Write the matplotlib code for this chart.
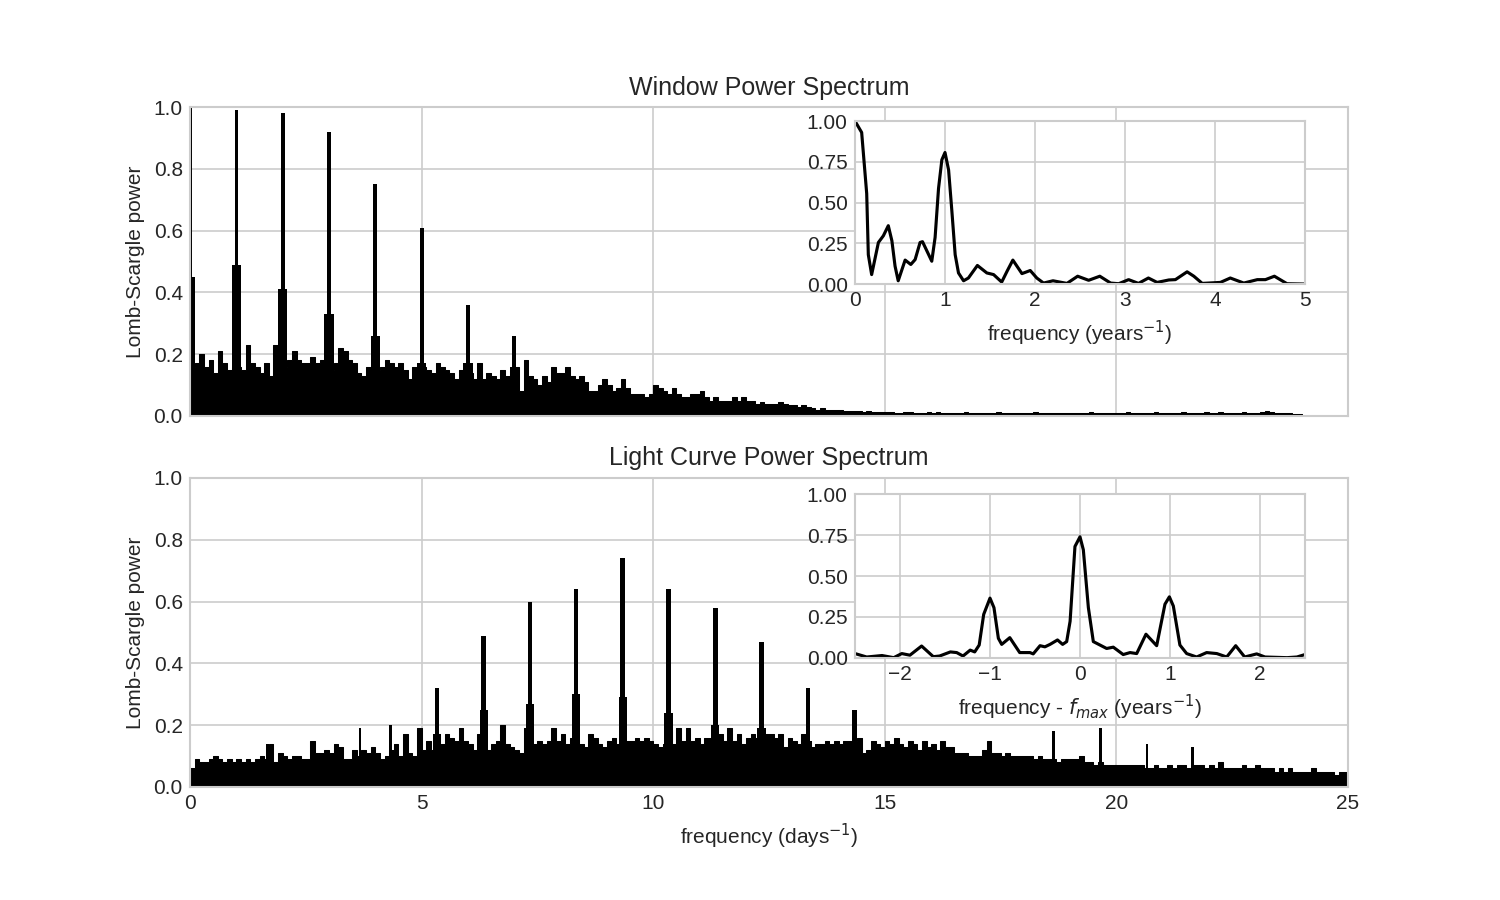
# Window and light curve Lomb-Scargle power spectra, with zoomed insets

import numpy as np
import matplotlib
matplotlib.use("Agg")
import matplotlib.pyplot as plt

#---------------------- DATA ------------------------#

# top panel: noise envelope in 0.1 day bins, 0 .. 24 days^-1
window_noise = [
    0.16, 0.17, 0.20, 0.16, 0.18, 0.14, 0.21, 0.17, 0.15, 0.16,
    0.16, 0.15, 0.23, 0.17, 0.16, 0.14, 0.17, 0.13, 0.23, 0.15,
    0.16, 0.18, 0.21, 0.18, 0.17, 0.17, 0.19, 0.17, 0.18, 0.16,
    0.15, 0.17, 0.22, 0.21, 0.18, 0.17, 0.14, 0.13, 0.16, 0.15,
    0.15, 0.16, 0.18, 0.17, 0.16, 0.17, 0.15, 0.12, 0.16, 0.15,
    0.16, 0.15, 0.14, 0.17, 0.16, 0.15, 0.14, 0.12, 0.15, 0.13,
    0.14, 0.12, 0.17, 0.12, 0.14, 0.13, 0.12, 0.15, 0.13, 0.15,
    0.16, 0.08, 0.18, 0.13, 0.12, 0.10, 0.13, 0.11, 0.16, 0.14,
    0.14, 0.16, 0.13, 0.12, 0.13, 0.11, 0.08, 0.08, 0.10, 0.12,
    0.10, 0.08, 0.09, 0.12, 0.09, 0.07, 0.07, 0.07, 0.06, 0.07,
    0.10, 0.09, 0.08, 0.07, 0.09, 0.07, 0.06, 0.06, 0.07, 0.07,
    0.08, 0.06, 0.05, 0.06, 0.05, 0.05, 0.05, 0.06, 0.05, 0.06,
    0.05, 0.05, 0.04, 0.045, 0.04, 0.04, 0.04, 0.045, 0.04, 0.035,
    0.035, 0.03, 0.035, 0.03, 0.025, 0.02, 0.025, 0.02, 0.02, 0.02,
    0.02, 0.015, 0.017, 0.015, 0.015, 0.014, 0.015, 0.013, 0.012, 0.012,
    0.012, 0.014, 0.011, 0.01, 0.012, 0.013, 0.01, 0.011, 0.01, 0.012,
    0.01, 0.012, 0.01, 0.009, 0.011, 0.01, 0.009, 0.012, 0.01, 0.009,
    0.01, 0.011, 0.009, 0.01, 0.012, 0.009, 0.01, 0.009, 0.011, 0.01,
    0.009, 0.01, 0.012, 0.009, 0.01, 0.009, 0.011, 0.01, 0.009, 0.01,
    0.01, 0.009, 0.011, 0.01, 0.012, 0.01, 0.009, 0.01, 0.011, 0.01,
    0.009, 0.01, 0.012, 0.01, 0.009, 0.011, 0.01, 0.01, 0.012, 0.01,
    0.01, 0.009, 0.011, 0.01, 0.012, 0.01, 0.011, 0.009, 0.01, 0.012,
    0.01, 0.011, 0.013, 0.01, 0.009, 0.011, 0.01, 0.012, 0.011, 0.01,
    0.011, 0.013, 0.015, 0.012, 0.01, 0.011, 0.01, 0.009, 0.008, 0.007,
]
window_peak_freq = [0.0, 1.0, 2.0, 3.0, 4.0, 5.0, 6.0, 7.0]
window_peak_power = [1.0, 0.99, 0.98, 0.92, 0.75, 0.61, 0.36, 0.26]
window_shoulder_power = [0.45, 0.49, 0.41, 0.33, 0.26, 0.17, 0.17, 0.16]

# bottom panel: noise envelope in 0.1 day bins, 0 .. 25 days^-1
lc_noise = [
    0.06, 0.09, 0.08, 0.08, 0.09, 0.10, 0.09, 0.08, 0.09, 0.08,
    0.09, 0.08, 0.09, 0.08, 0.09, 0.10, 0.09, 0.14, 0.08, 0.11,
    0.10, 0.09, 0.10, 0.10, 0.09, 0.09, 0.15, 0.11, 0.11, 0.12,
    0.11, 0.14, 0.13, 0.09, 0.09, 0.12, 0.10, 0.12, 0.11, 0.13,
    0.11, 0.09, 0.10, 0.12, 0.14, 0.10, 0.17, 0.11, 0.10, 0.19,
    0.12, 0.15, 0.12, 0.17, 0.14, 0.17, 0.16, 0.15, 0.19, 0.15,
    0.14, 0.12, 0.17, 0.20, 0.12, 0.14, 0.15, 0.20, 0.14, 0.13,
    0.12, 0.11, 0.19, 0.12, 0.14, 0.15, 0.14, 0.15, 0.19, 0.15,
    0.17, 0.14, 0.16, 0.15, 0.14, 0.13, 0.17, 0.16, 0.14, 0.13,
    0.15, 0.16, 0.14, 0.17, 0.15, 0.15, 0.16, 0.15, 0.16, 0.15,
    0.14, 0.13, 0.14, 0.18, 0.14, 0.19, 0.15, 0.19, 0.15, 0.16,
    0.14, 0.16, 0.16, 0.15, 0.17, 0.15, 0.19, 0.15, 0.17, 0.14,
    0.16, 0.17, 0.16, 0.15, 0.17, 0.17, 0.16, 0.17, 0.13, 0.16,
    0.15, 0.14, 0.17, 0.15, 0.13, 0.14, 0.14, 0.15, 0.14, 0.15,
    0.14, 0.15, 0.15, 0.15, 0.16, 0.11, 0.12, 0.15, 0.14, 0.13,
    0.15, 0.14, 0.16, 0.14, 0.13, 0.15, 0.14, 0.12, 0.15, 0.13,
    0.14, 0.12, 0.15, 0.13, 0.13, 0.11, 0.11, 0.11, 0.10, 0.10,
    0.10, 0.12, 0.15, 0.11, 0.11, 0.10, 0.11, 0.10, 0.10, 0.10,
    0.10, 0.10, 0.09, 0.10, 0.09, 0.09, 0.09, 0.08, 0.09, 0.09,
    0.09, 0.09, 0.10, 0.08, 0.08, 0.07, 0.08, 0.07, 0.07, 0.07,
    0.07, 0.07, 0.07, 0.07, 0.07, 0.07, 0.06, 0.06, 0.07, 0.06,
    0.06, 0.07, 0.06, 0.07, 0.07, 0.06, 0.07, 0.07, 0.07, 0.06,
    0.07, 0.06, 0.08, 0.06, 0.06, 0.06, 0.06, 0.07, 0.06, 0.06,
    0.07, 0.06, 0.06, 0.06, 0.05, 0.06, 0.05, 0.06, 0.05, 0.05,
    0.05, 0.05, 0.06, 0.05, 0.05, 0.05, 0.05, 0.04, 0.05, 0.05,
]
lc_peak_freq = [5.33, 6.34, 7.34, 8.33, 9.34, 10.33, 11.34, 12.34, 13.34, 14.35]
lc_peak_power = [0.32, 0.49, 0.60, 0.64, 0.74, 0.64, 0.58, 0.47, 0.32, 0.25]
lc_shoulder_power = [0.17, 0.25, 0.27, 0.30, 0.29, 0.24, 0.20, 0.19, 0.15, 0.14]
lc_spike_freq = [1.68, 3.67, 4.32, 18.64, 19.65, 20.66, 21.65]
lc_spike_power = [0.14, 0.19, 0.20, 0.18, 0.19, 0.14, 0.13]

# top inset: window power near zero (years^-1)
win_zoom_freq = [0.0, 0.074, 0.13, 0.148, 0.185, 0.26, 0.315, 0.37, 0.41, 0.445,
                 0.48, 0.557, 0.62, 0.668, 0.723, 0.75, 0.853, 0.89, 0.928, 0.965,
                 1.0, 1.04, 1.076, 1.113, 1.15, 1.206, 1.26, 1.36, 1.465, 1.54,
                 1.63, 1.69, 1.754, 1.855, 1.947, 2.02, 2.095, 2.2, 2.355, 2.474,
                 2.596, 2.72, 2.84, 2.93, 3.04, 3.15, 3.26, 3.357, 3.487, 3.56,
                 3.69, 3.765, 3.858, 4.06, 4.17, 4.32, 4.47, 4.56, 4.66, 4.8, 5.0]
win_zoom_power = [1.0, 0.93, 0.555, 0.18, 0.058, 0.255, 0.296, 0.358, 0.265, 0.11,
                  0.02, 0.147, 0.12, 0.15, 0.255, 0.26, 0.14, 0.286, 0.586, 0.762,
                  0.807, 0.70, 0.45, 0.18, 0.068, 0.02, 0.037, 0.114, 0.068, 0.058,
                  0.012, 0.079, 0.147, 0.064, 0.083, 0.037, 0.006, 0.02, 0.004, 0.048,
                  0.023, 0.048, 0.006, 0.002, 0.027, 0.004, 0.037, 0.01, 0.025, 0.027,
                  0.075, 0.048, 0.004, 0.01, 0.037, 0.006, 0.027, 0.027, 0.048, 0.002, 0.0]

# bottom inset: light curve power around f_max (years^-1)
lc_zoom_freq = [-2.5, -2.37, -2.2, -2.07, -1.98, -1.89, -1.76, -1.63, -1.56, -1.44,
                -1.37, -1.3, -1.22, -1.17, -1.12, -1.07, -1.0, -0.956, -0.907, -0.87,
                -0.78, -0.67, -0.556, -0.52, -0.444, -0.39, -0.333, -0.25, -0.193, -0.148,
                -0.11, -0.056, 0.0, 0.037, 0.093, 0.148, 0.222, 0.296, 0.37, 0.48,
                0.556, 0.63, 0.733, 0.852, 0.944, 0.993, 1.037, 1.11, 1.185, 1.296,
                1.407, 1.52, 1.63, 1.73, 1.83, 1.963, 2.056, 2.3, 2.41, 2.5]
lc_zoom_power = [0.027, 0.006, 0.015, 0.002, 0.027, 0.017, 0.073, 0.008, 0.012, 0.037,
                 0.033, 0.012, 0.048, 0.037, 0.079, 0.266, 0.365, 0.307, 0.12, 0.083,
                 0.124, 0.033, 0.033, 0.025, 0.075, 0.068, 0.083, 0.11, 0.083, 0.1,
                 0.224, 0.68, 0.739, 0.66, 0.307, 0.1, 0.079, 0.058, 0.066, 0.021,
                 0.033, 0.027, 0.145, 0.075, 0.328, 0.373, 0.317, 0.079, 0.027, 0.006,
                 0.033, 0.027, 0.006, 0.075, 0.006, 0.025, 0.006, 0.002, 0.006, 0.021]

#---------------------- PLOT ------------------------#

plt.style.use("seaborn-v0_8-whitegrid")
plt.rcParams["font.family"] = ["Liberation Sans", "DejaVu Sans"]
plt.rcParams["font.size"] = 10
plt.rcParams["axes.titlesize"] = 12
plt.rcParams["axes.labelsize"] = 10

fig = plt.figure(figsize=(10, 6), dpi=150)

ax_top = fig.add_axes([0.1267, 0.5378, 0.772, 0.3433])
ax_bot = fig.add_axes([0.1267, 0.1256, 0.772, 0.3433])

def draw_spectrum(ax, noise, fmax, peak_f, peak_p, shoulder_p, peak_w, shoulder_w):
    freq = np.arange(len(noise)) * 0.1
    ax.fill_between(np.append(freq, fmax), np.append(noise, noise[-1]),
                    step="post", color="black", lw=0.5)
    ax.bar(peak_f, shoulder_p, width=shoulder_w, color="black", lw=0)
    ax.bar(peak_f, peak_p, width=peak_w, color="black", lw=0)

draw_spectrum(ax_top, window_noise, 24.0, window_peak_freq, window_peak_power,
              window_shoulder_power, 0.08, 0.2)
draw_spectrum(ax_bot, lc_noise, 25.0, lc_peak_freq, lc_peak_power,
              lc_shoulder_power, 0.1, 0.18)
ax_bot.bar(lc_spike_freq, lc_spike_power, width=0.06, color="black", lw=0)

for ax in (ax_top, ax_bot):
    ax.set_xlim(0, 25)
    ax.set_ylim(0, 1)
    ax.set_xticks([0, 5, 10, 15, 20, 25])
    ax.set_yticks([0.0, 0.2, 0.4, 0.6, 0.8, 1.0])
    ax.set_ylabel("Lomb-Scargle power")
    for s in ax.spines.values():
        s.set_visible(True)
        s.set_color("#cccccc")

ax_top.set_xticklabels([])
ax_top.set_title("Window Power Spectrum")
ax_bot.set_title("Light Curve Power Spectrum")
ax_bot.set_xlabel("frequency (days$^{-1}$)")

# insets
in_top = fig.add_axes([0.57, 0.6844, 0.30, 0.1811])
in_top.plot(win_zoom_freq, win_zoom_power, "-k", lw=1.5)
in_top.set_xlim(0, 5)
in_top.set_ylim(0, 1)
in_top.set_yticks([0.0, 0.25, 0.5, 0.75, 1.0])
in_top.set_yticklabels(["0.00", "0.25", "0.50", "0.75", "1.00"])
in_top.set_xlabel("frequency (years$^{-1}$)")

in_bot = fig.add_axes([0.57, 0.2689, 0.30, 0.1822])
in_bot.plot(lc_zoom_freq, lc_zoom_power, "-k", lw=1.5)
in_bot.set_xlim(-2.5, 2.5)
in_bot.set_ylim(0, 1)
in_bot.set_xticks([-2, -1, 0, 1, 2])
in_bot.set_yticks([0.0, 0.25, 0.5, 0.75, 1.0])
in_bot.set_yticklabels(["0.00", "0.25", "0.50", "0.75", "1.00"])
in_bot.set_xlabel("frequency - $f_{max}$ (years$^{-1}$)")

for ax in (in_top, in_bot):
    ax.set_facecolor("white")
    ax.xaxis.labelpad = 4
    for s in ax.spines.values():
        s.set_visible(True)
        s.set_color("#cccccc")

fig.savefig("out.png", dpi=150)
